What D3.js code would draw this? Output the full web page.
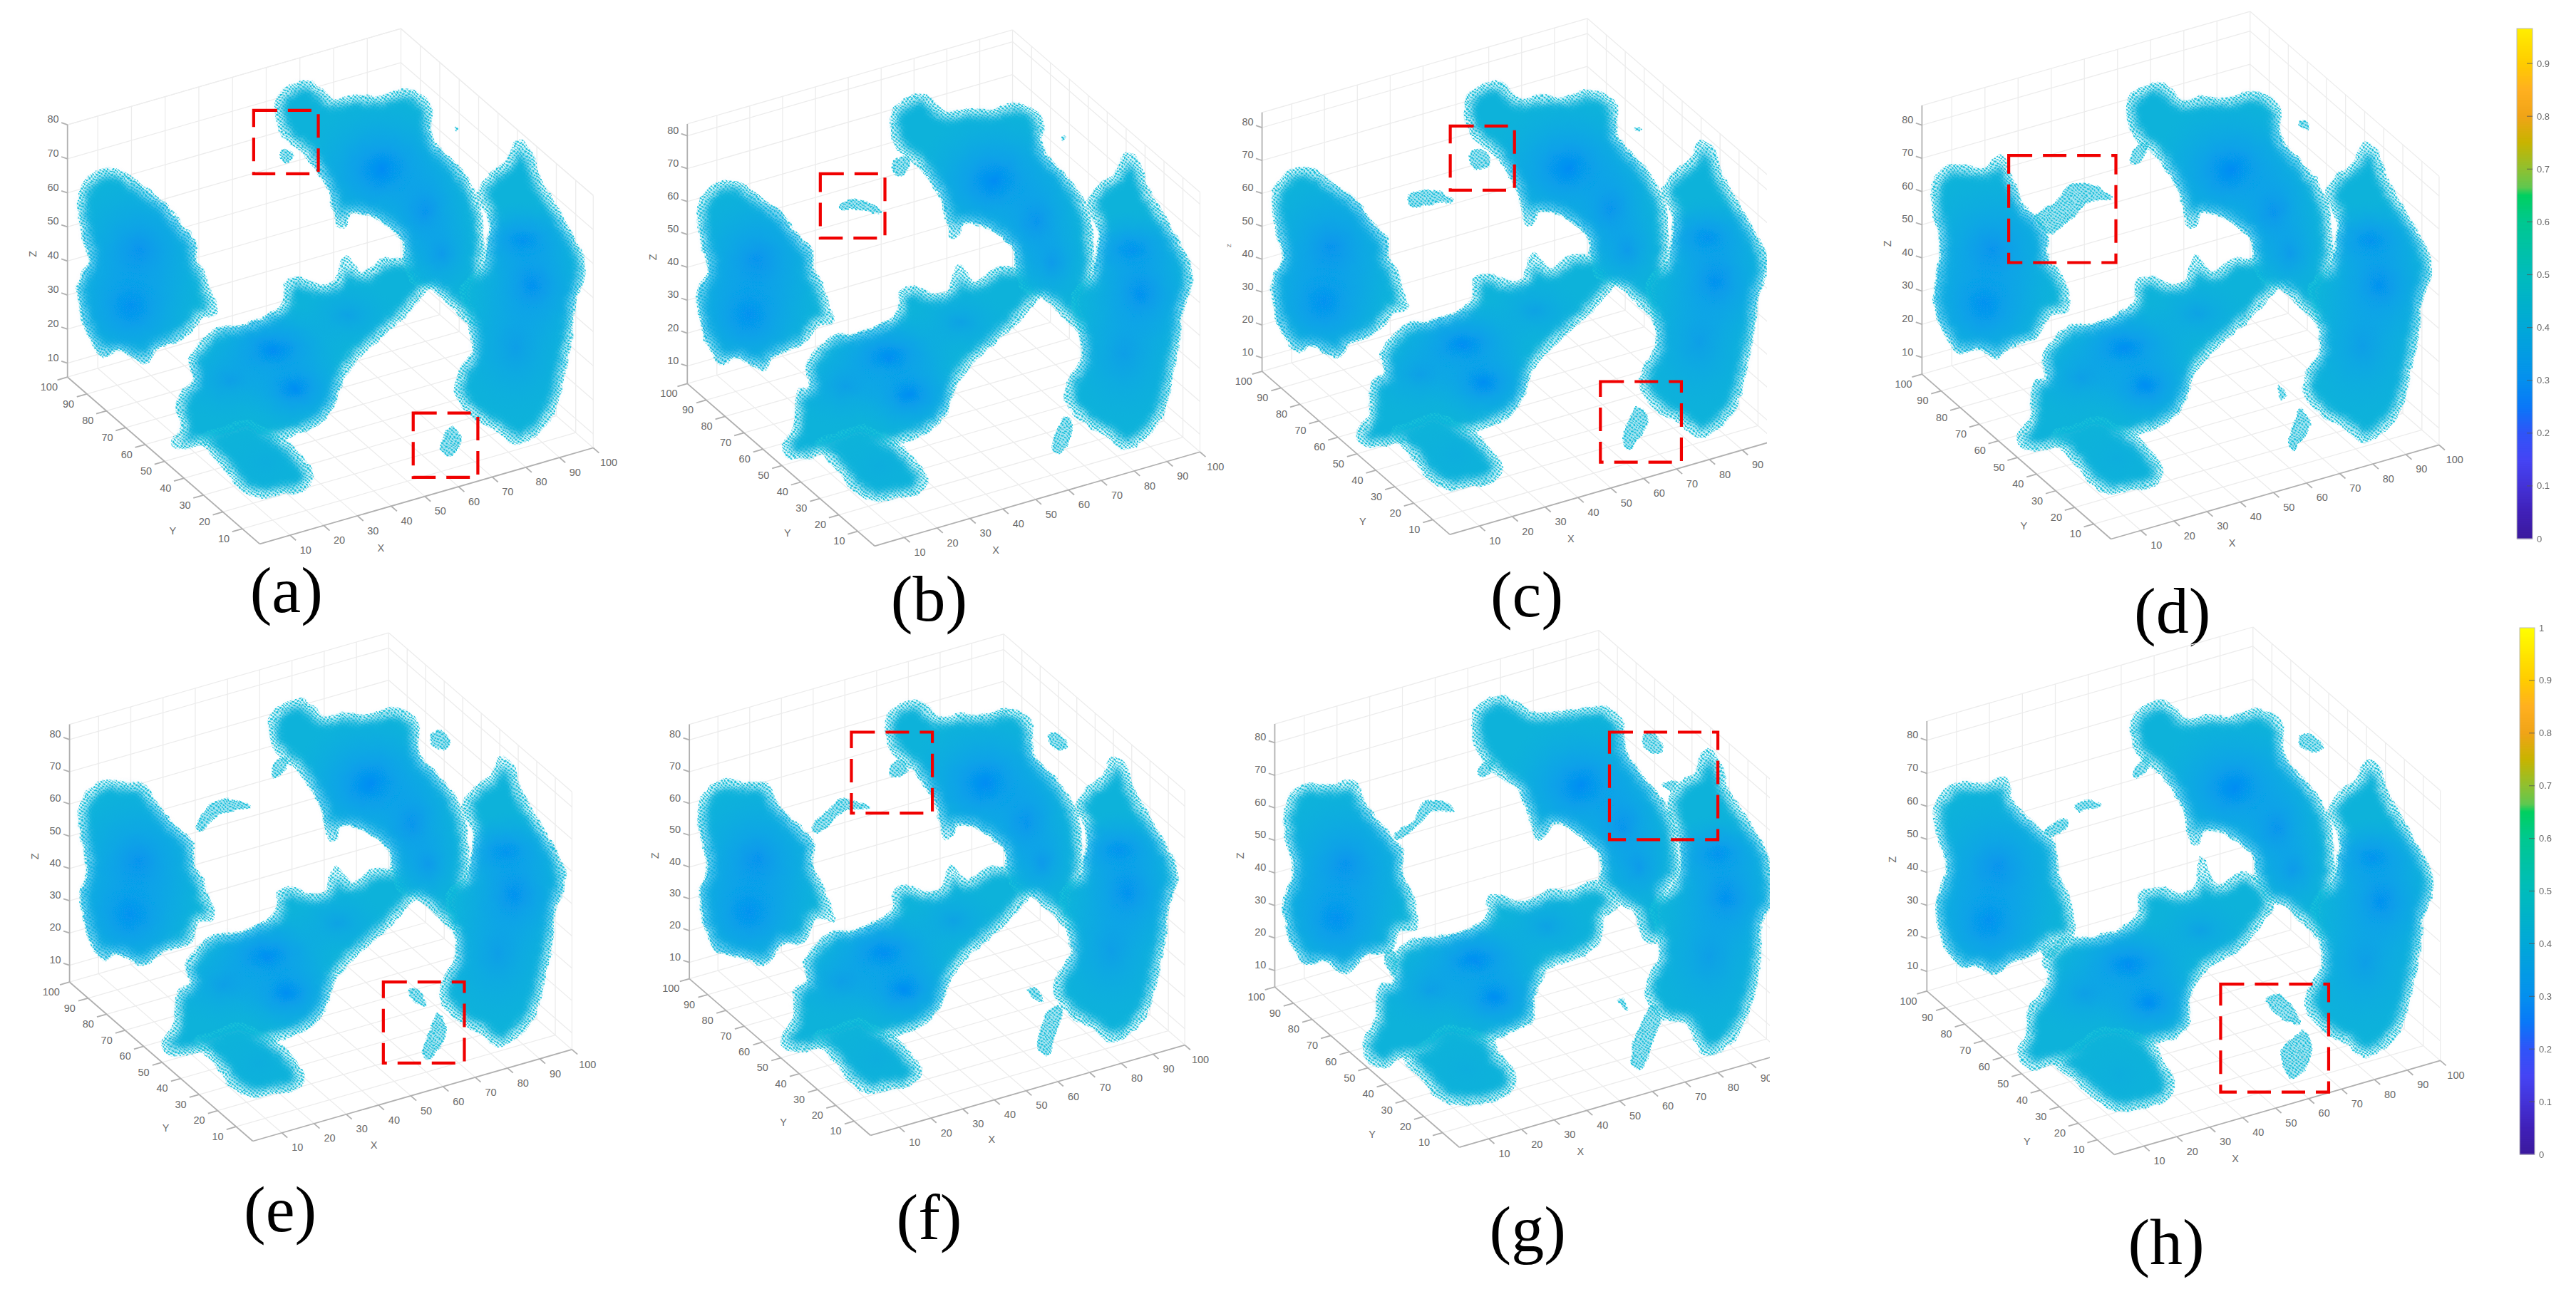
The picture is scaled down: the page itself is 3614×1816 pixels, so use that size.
<!DOCTYPE html>
<html><head><meta charset="utf-8">
<script src="https://cdn.jsdelivr.net/npm/d3@7"></script>
<style>html,body{margin:0;background:#fff}svg{display:block}</style></head>
<body><svg id="c" width="3614" height="1816"></svg>
<script>
// ---------- panel frames ----------
const panelLabels=["(a)","(b)","(c)","(d)","(e)","(f)","(g)","(h)"];
const panelOrigin=[[0,0],[900,0],[1700,0],[2600,0],[0,880],[900,880],[1750,880],[2600,880]];
const cornerL=[[165,922],[112,938],[123,908],[168,915],[170,868],[117,860],[67,880],[180,890]];
const cornerF=[[635,1330],[570,1335],[582,1307],[630,1318],[618,1257],[560,1243],[518,1272],[638,1290]];
const cornerR=[[1450,1095],[1365,1105],[1377,1077],[1432,1088],[1398,1033],[1328,1022],[1310,1043],[1435,1060]];
const zTopY=[305,303,275,258,238,238,237,230];
const zTick10Y=[888,895,875,874,827,820,840,842];
const zTick80Y=[305,332,312,306,275,276,283,277];
const zLabelY=[612,620,592,587,552,550,550,560];
const clipRight=[1568,1568,1357,1568,1568,1568,1277,1568];
const labelPos=[[700,1497],[703,1517],[770,1507],[780,1547],[685,1477],[703,1497],[685,1527],[765,1557]];
const redBoxes=[
 [[620,270,778,425],[1010,1010,1168,1167]],
 [[437,425,595,582]],
 [[583,308,740,465],[950,933,1148,1130]],
 [[380,380,642,642]],
 [[937,868,1135,1066]],
 [[513,257,711,455]],
 [[885,257,1150,520]],
 [[898,873,1162,1137]]];
const axisTicks=[10,20,30,40,50,60,70,80,90,100];
const zTicks=[10,20,30,40,50,60,70,80];
// ---------- cluster outlines, as traced in panel (a) ----------
const blobA=[[260,415],[305,425],[350,460],[400,497],[440,550],[475,590],[478,635],[497,665],[507,695],[515,720],[527,765],[490,775],[465,810],[425,835],[385,850],[355,885],[320,870],[285,855],[255,872],[225,835],[205,790],[193,720],[197,680],[220,640],[205,580],[195,520],[197,470],[225,430]];
const blobB=[[755,200],[790,225],[815,245],[860,235],[920,240],[985,222],[1030,235],[1053,265],[1050,310],[1060,345],[1110,400],[1145,445],[1170,500],[1178,560],[1180,630],[1175,665],[1230,720],[1190,790],[1150,790],[1100,745],[1055,705],[1010,690],[990,640],[985,590],[940,545],[885,520],[855,520],[845,550],[830,555],[815,505],[805,465],[775,415],[740,370],[700,340],[680,300],[680,240],[710,212]];
const blobC=[[1060,640],[1090,690],[1050,705],[1020,735],[985,775],[945,810],[880,870],[840,920],[810,1000],[770,1040],[690,1072],[640,1085],[560,1105],[500,1085],[440,1095],[420,1082],[445,1050],[435,1000],[445,960],[475,930],[465,880],[490,840],[530,805],[580,800],[650,775],[695,740],[700,690],[730,682],[790,700],[820,690],[845,628],[865,650],[885,670],[940,635],[975,635]];
const blobCfat=[[1060,640],[1090,690],[1050,705],[1020,735],[985,775],[945,810],[880,870],[840,920],[810,1000],[770,1040],[690,1072],[640,1085],[560,1105],[530,1095],[460,1107],[415,1102],[405,1078],[435,1030],[445,945],[475,930],[465,880],[490,840],[530,805],[580,800],[650,775],[695,740],[700,690],[730,682],[790,700],[820,690],[845,628],[865,650],[885,670],[940,635],[975,635]];
const blobD=[[1265,347],[1295,370],[1315,430],[1350,490],[1395,570],[1425,630],[1425,680],[1403,740],[1398,800],[1380,900],[1350,1010],[1310,1060],[1260,1085],[1215,1050],[1160,1020],[1115,960],[1125,910],[1155,860],[1148,790],[1130,700],[1180,650],[1190,610],[1198,540],[1180,500],[1170,475],[1195,430],[1240,395]];
const blobE=[[600,1030],[650,1050],[700,1080],[745,1130],[763,1160],[745,1195],[690,1205],[640,1215],[590,1195],[550,1145],[510,1100],[490,1070],[540,1050]];
const blobNames=["C","B","A","D","E"];
const blobShapes=[blobC,blobB,blobA,blobD,blobE];
// densest spots: blob index, x, y, rx, ry, strength
const hotSpots=[
 [2,320,745,170,170,1],[2,340,610,190,190,.75],
 [1,935,415,200,170,1],[1,1040,520,130,170,.75],[1,1080,620,100,120,.55],
 [3,1280,590,140,100,1],[3,1300,700,150,165,.9],[3,1260,850,150,190,.5],
 [0,670,860,180,120,1],[0,720,950,140,105,.95],[0,560,930,140,105,.45],[0,850,770,120,85,.4],
 [4,650,1130,100,80,.12]];
// ---------- shapes that differ per panel, in that panel's own frame ----------
const overrideA={3:[[255,405],[320,415],[360,380],[385,430],[415,500],[470,565],[475,640],[500,660],[525,755],[480,770],[445,825],[390,845],[345,873],[310,850],[260,860],[225,815],[200,740],[210,650],[215,600],[195,500],[200,440],[220,415]],
 4:[[265,375],[310,385],[345,385],[375,420],[420,480],[470,530],[470,575],[495,620],[500,650],[510,660],[518,715],[485,720],[465,770],[420,785],[385,800],[350,825],[320,815],[285,795],[255,812],[225,775],[210,720],[197,660],[215,590],[200,510],[197,440],[225,395]],
 5:[[210,375],[250,385],[300,382],[330,430],[385,490],[420,530],[415,580],[440,630],[450,660],[467,715],[425,710],[395,770],[350,770],[300,825],[260,810],[215,800],[175,780],[150,700],[145,640],[165,590],[145,500],[145,430],[170,390]],
 6:[[150,385],[210,390],[260,378],[285,430],[340,500],[378,550],[375,600],[400,650],[410,735],[370,740],[350,790],[290,800],[240,845],[190,815],[140,820],[105,760],[90,670],[115,600],[95,510],[95,440],[115,400]],
 7:[[250,385],[330,385],[370,370],[390,430],[450,490],[490,530],[500,610],[525,660],[535,755],[490,765],[440,800],[390,815],[345,845],[300,825],[265,830],[225,780],[205,680],[230,590],[205,500],[205,430]]};
const overrideB={6:[[620,172],[665,190],[700,212],[790,205],[870,197],[915,230],[922,300],[960,360],[1010,420],[1040,480],[1050,560],[1050,610],[1015,650],[1060,690],[1000,770],[970,760],[950,700],[905,670],[865,630],[865,560],[820,515],[770,480],[745,480],[720,515],[705,515],[690,460],[665,400],[600,350],[560,290],[555,210],[585,180]]};
const overrideD={6:[[1120,300],[1150,325],[1170,390],[1220,470],[1270,560],[1280,680],[1255,720],[1250,830],[1215,960],[1180,1015],[1125,1045],[1095,1010],[1075,970],[1005,950],[975,890],[990,840],[1010,800],[1000,740],[990,680],[1050,620],[1060,540],[1045,490],[1030,430],[1060,380],[1095,360]]};
const overrideC={6:[[860,625],[905,680],[870,710],[860,770],[800,810],[740,830],[700,900],[695,960],[630,995],[600,1010],[540,1030],[480,1030],[430,1050],[380,1050],[340,1075],[295,1060],[288,1010],[315,960],[325,880],[360,870],[352,810],[410,765],[470,760],[560,730],[590,700],[590,660],[640,665],[680,675],[740,645],[780,650],[830,630]],
 7:[[990,620],[1025,670],[985,740],[940,790],[890,815],[850,850],[820,910],[815,975],[790,1000],[735,1015],[660,1050],[580,1060],[490,1065],[435,1080],[405,1035],[425,1000],[430,940],[470,885],[480,850],[465,815],[525,765],[590,760],[660,735],[700,700],[700,655],[750,640],[800,655],[835,640],[850,565],[870,605],[890,635],[950,603]]};
const overrideE={6:[[480,980],[540,985],[600,1010],[610,1040],[650,1085],[650,1125],[620,1150],[520,1165],[470,1150],[430,1105],[385,1055],[430,1020]],
 7:[[600,985],[680,990],[735,1020],[755,1060],[778,1105],[770,1150],[720,1170],[640,1180],[590,1150],[545,1110],[495,1065],[550,1020]]};
const extrasA=[[[695,365],[715,375],[712,392],[695,397],[685,382]],[[1105,1045],[1125,1075],[1100,1113],[1078,1095]],[[1112,310],[1118,313],[1114,317]]];
const extrasB=[[[483,505],[515,488],[555,497],[585,520],[530,512],[495,512]],[[618,395],[650,385],[655,410],[625,430]],[[1020,1045],[1035,1020],[1050,1030],[1045,1075],[1020,1110],[1003,1095]],[[1026,335],[1033,332],[1030,341]]];
const extrasC=[[[480,480],[530,465],[590,490],[540,497],[485,505]],[[630,375],[660,365],[680,400],[640,410]],[[1040,997],[1065,1025],[1040,1075],[1020,1100],[1008,1085],[1020,1030]],[[1034,314],[1048,314],[1042,320]]];
const extrasD=[[[445,530],[500,490],[530,455],[580,452],[630,485],[580,490],[530,535],[480,570]],[[685,365],[720,350],[700,395],[680,400]],[[1090,298],[1105,298],[1112,318],[1098,312]],[[1038,942],[1058,968],[1045,972]],[[1095,1000],[1115,1040],[1090,1085],[1075,1100],[1065,1080],[1080,1030]]];
const extrasE=[[[515,435],[560,420],[610,440],[570,450],[530,458],[490,498],[480,490]],[[670,335],[700,320],[695,350],[670,368]],[[1055,260],[1075,255],[1100,285],[1085,300],[1055,285]],[[1000,890],[1025,890],[1040,925],[1015,915]],[[1070,945],[1090,985],[1065,1040],[1045,1057],[1035,1040],[1050,990]]];
const extrasF=[[[415,495],[455,450],[490,422],[555,440],[490,450],[435,500]],[[610,340],[635,325],[650,350],[612,365]],[[993,265],[1015,260],[1040,290],[1015,298]],[[948,888],[962,885],[978,915],[962,908]],[[1000,935],[1025,930],[1010,1000],[990,1045],[970,1030]]];
const extrasG=[[[360,510],[410,470],[430,432],[470,425],[505,447],[450,450],[420,480],[370,517]],[[565,345],[605,322],[595,355],[570,368]],[[965,270],[990,258],[1015,303],[985,305]],[[1015,382],[1050,382],[1035,400]],[[908,912],[920,912],[928,938]],[[990,925],[1010,950],[990,1010],[965,1080],[945,1075],[940,1045]],[[345,790],[365,810],[355,850],[335,810]]];
const extrasH=[[[545,435],[575,425],[605,437],[570,445],[550,450]],[[470,500],[520,470],[525,485],[480,510]],[[685,355],[720,315],[720,345],[690,365]],[[1090,270],[1110,260],[1148,295],[1125,305],[1095,292]],[[1008,910],[1040,900],[1070,925],[1090,970],[1050,955]],[[1050,1030],[1085,1000],[1100,985],[1120,1030],[1100,1080],[1070,1103],[1050,1060]],[[460,790],[520,760],[480,810]]];
const panelExtras=[extrasA,extrasB,extrasC,extrasD,extrasE,extrasF,extrasG,extrasH];
// ---------- colour bars ----------
const colourValues=[0,.05,.1,.15,.2,.25,.3,.4,.5,.6,.65,.665,.7,.75,.8,.85,.9,1];
const colourHex=["#3c1a9e","#4020b8","#4433d8","#4545f5","#2f55f8","#0a78f8","#0590ee","#02a8d8","#00bcbc","#00c890","#00d060","#60c850","#90c030","#c8b400","#f0a418","#ffb020","#ffcc00","#ffff00"];
const barTicks=[0,.1,.2,.3,.4,.5,.6,.7,.8,.9,1];
const barX=[[3531,3553],[3535,3556]];
const barY0=[756,1620];
const barY1=[15,881];
const barClipTop=[40,881];

const svg=d3.select("#c");
const defs=svg.append("defs");
const GREY="#6a6a6a";
const FONT="'Liberation Sans',Arial,sans-serif";
// stipple
const pat=defs.append("pattern").attr("id","dots").attr("patternUnits","userSpaceOnUse").attr("width",4.2).attr("height",3.8).attr("patternTransform","rotate(38)");
pat.append("ellipse").attr("cx",2.1).attr("cy",1.9).attr("rx",1.75).attr("ry",1.1).attr("fill","#1cc2da");
const soft=defs.append("filter").attr("id","soft").attr("x","-5%").attr("y","-5%").attr("width","110%").attr("height","110%");
soft.append("feMorphology").attr("operator","erode").attr("radius",6).attr("result","e");
soft.append("feGaussianBlur").attr("in","e").attr("stdDeviation",6);
// rough, slightly soft edge of the point cloud
const rough=defs.append("filter").attr("id","rough").attr("x","-3%").attr("y","-3%").attr("width","106%").attr("height","106%");
rough.append("feTurbulence").attr("type","fractalNoise").attr("baseFrequency",.07).attr("numOctaves",2).attr("seed",3).attr("result","n");
rough.append("feDisplacementMap").attr("in","SourceGraphic").attr("in2","n").attr("scale",6).attr("xChannelSelector","R").attr("yChannelSelector","G").attr("result","d");
rough.append("feGaussianBlur").attr("in","d").attr("stdDeviation",.45);
const rg=defs.append("radialGradient").attr("id","hot");
rg.append("stop").attr("offset","0%").attr("stop-color","#058cf4").attr("stop-opacity",1);
rg.append("stop").attr("offset","35%").attr("stop-color","#069eec").attr("stop-opacity",.78);
rg.append("stop").attr("offset","100%").attr("stop-color","#08ace2").attr("stop-opacity",0);

const closed=(sx,sy)=>d3.line().x(d=>sx(d[0])).y(d=>sy(d[1])).curve(d3.curveCatmullRomClosed.alpha(.5));
const open=(sx,sy)=>d3.line().x(d=>sx(d[0])).y(d=>sy(d[1]));

panelLabels.forEach((lab,i)=>{
  const [ox,oy]=panelOrigin[i];
  const sx=d3.scaleLinear().domain([0,1568]).range([ox,ox+900]);
  const sy=d3.scaleLinear().domain([0,1568]).range([oy,oy+900]);
  const L=cornerL[i],F=cornerF[i],R=cornerR[i];
  const X=[R[0]-F[0],R[1]-F[1]],Y=[L[0]-F[0],L[1]-F[1]];
  const xf=d3.scaleLinear().domain([1,100]).range([0,1]);
  const yf=d3.scaleLinear().domain([1,100]).range([0,1]);
  const zf=d3.scaleLinear().domain([10,80]).range([zTick10Y[i]-L[1],zTick80Y[i]-L[1]]);
  const zTop=zTopY[i]-L[1];
  const P=(x,y,dz=0)=>[F[0]+X[0]*xf(x)+Y[0]*yf(y),F[1]+X[1]*xf(x)+Y[1]*yf(y)+dz];
  // frame (a) -> this panel
  const La=cornerL[0],Fa=cornerF[0],Ra=cornerR[0];
  const ax=Fa[0]-La[0],ay=Fa[1]-La[1],bx=Ra[0]-La[0],by=Ra[1]-La[1],det=ax*by-bx*ay;
  const map=p=>{const dx=p[0]-La[0],dy=p[1]-La[1];const s=(dx*by-bx*dy)/det,t=(ax*dy-dx*ay)/det;
    return [L[0]+s*(F[0]-L[0])+t*(R[0]-L[0]),L[1]+s*(F[1]-L[1])+t*(R[1]-L[1])];};

  defs.append("clipPath").attr("id","pc"+i).append("rect").attr("x",ox-60).attr("y",oy-20).attr("width",sx(clipRight[i])-ox+60).attr("height",880);
  const g=svg.append("g").attr("clip-path",`url(#pc${i})`);
  const line=open(sx,sy);
  const grid=g.append("g").attr("fill","none").attr("stroke","#ececec").attr("stroke-width",1.3);
  const seg=(a,b)=>grid.append("path").attr("d",line([a,b]));
  seg(P(1,100,zTop),P(100,100,zTop));seg(P(100,100,zTop),P(100,1,zTop));seg(P(100,100,0),P(100,100,zTop));
  seg(P(100,100,0),P(100,1,0));seg(P(100,100,0),P(1,100,0));seg(P(100,1,0),P(100,1,zTop));
  axisTicks.filter(t=>t<100).forEach(t=>{
    seg(P(t,1),P(t,100));seg(P(t,100),P(t,100,zTop));
    seg(P(1,t),P(100,t));seg(P(100,t),P(100,t,zTop));
  });
  zTicks.forEach(z=>{seg(P(1,100,zf(z)),P(100,100,zf(z)));seg(P(100,100,zf(z)),P(100,1,zf(z)));});
  // axes
  const ax3=g.append("g").attr("fill","none").attr("stroke","#b0b0b0").attr("stroke-width",1.8);
  [[P(1,100,zTop),P(1,100)],[P(1,100),P(1,1)],[P(1,1),P(100,1)]].forEach(s=>ax3.append("path").attr("d",line(s)));
  axisTicks.forEach(t=>{
    ax3.append("path").attr("d",line([P(t,1),P(t,-2)]));
    ax3.append("path").attr("d",line([P(1,t),P(-2,t)]));
  });
  zTicks.forEach(z=>{const a=P(1,100,zf(z));ax3.append("path").attr("d",line([a,[a[0]-15,a[1]-5]]));});
  const txt=g.append("g").attr("font-family",FONT).attr("font-size",14.5).attr("fill",GREY).attr("text-anchor","middle");
  const put=(p,s,rot)=>{const t=txt.append("text").attr("x",sx(p[0])).attr("y",sy(p[1])+5).text(s);
    if(rot)t.attr("transform",`rotate(-90 ${sx(p[0])} ${sy(p[1])+5})`);return t;};
  axisTicks.forEach(t=>{
    const a=P(t,1);put([a[0]+38,a[1]+36],t);
    const b=P(1,t);put([b[0]-45,b[1]+24],t);
  });
  zTicks.forEach(z=>{const a=P(1,100,zf(z));put([a[0]-35,a[1]-14],z);});
  put([F[0]+296,F[1]+10],"X");put([F[0]-213,F[1]-32],"Y");
  put([L[0]-76,zLabelY[i]],"Z",true).attr("font-size",i===2?8:14.5);

  // clusters
  const outline=closed(sx,sy);
  const drawn=blobNames.map((n,b)=>{
    const ov={C:overrideC,B:overrideB,A:overrideA,D:overrideD,E:overrideE}[n];
    if(ov[i])return ov[i];
    const src=(n==="C"&&i>0)?blobCfat:blobShapes[b];
    return src.map(map);
  });
  const layer=g.append("g").attr("filter","url(#rough)");
  drawn.forEach((pts,b)=>{
    const d=outline(pts);
    defs.append("clipPath").attr("id",`bc${i}_${b}`).append("path").attr("d",d);
    layer.append("path").attr("d",d).attr("fill","url(#dots)").attr("stroke","url(#dots)").attr("stroke-width",5);
    layer.append("path").attr("d",d).attr("fill","#0eb2da").attr("filter","url(#soft)");
    const h=layer.append("g").attr("clip-path",`url(#bc${i}_${b})`);
    hotSpots.filter(s=>s[0]===b).forEach(s=>{
      const c=map([s[1],s[2]]);
      h.append("ellipse").attr("cx",sx(c[0])).attr("cy",sy(c[1])).attr("rx",s[3]/1.742).attr("ry",s[4]/1.742).attr("fill","url(#hot)").attr("opacity",s[5]);
    });
  });
  panelExtras[i].forEach(pts=>{
    const d=outline(pts);
    layer.append("path").attr("d",d).attr("fill","url(#dots)").attr("stroke","url(#dots)").attr("stroke-width",3);
    layer.append("path").attr("d",d).attr("fill","#12b6da").attr("opacity",.35);
  });
  // red dashed boxes
  redBoxes[i].forEach(r=>{
    g.append("rect").attr("x",sx(r[0])).attr("y",sy(r[1])).attr("width",sx(r[2])-sx(r[0])).attr("height",sy(r[3])-sy(r[1]))
     .attr("fill","none").attr("stroke","#f00000").attr("stroke-width",4.2).attr("stroke-dasharray","33,15");
  });
  // panel letter
  svg.append("text").attr("x",sx(labelPos[i][0])).attr("y",sy(labelPos[i][1])).attr("text-anchor","middle")
    .attr("font-family","'Liberation Serif','Times New Roman',serif").attr("font-size",92).attr("fill","#000").text(lab);
});

// colour bars
const colour=d3.scaleLinear().domain(colourValues).range(colourHex).interpolate(d3.interpolateRgb);
barX.forEach((bx,k)=>{
  const vy=d3.scaleLinear().domain([0,1]).range([barY0[k],barY1[k]]);
  const g=svg.append("g");
  const top=barClipTop[k];
  const steps=d3.range(0,vy.invert(top),0.002);
  g.selectAll("rect.s").data(steps).join("rect").attr("class","s")
    .attr("x",bx[0]).attr("width",bx[1]-bx[0])
    .attr("y",v=>Math.max(top,vy(v+0.002)-0.5)).attr("height",v=>vy(v)-Math.max(top,vy(v+0.002))+1)
    .attr("fill",v=>colour(v));
  g.append("rect").attr("x",bx[0]).attr("y",top).attr("width",bx[1]-bx[0]).attr("height",vy(0)-top)
    .attr("fill","none").attr("stroke","#bbb").attr("stroke-width",1);
  barTicks.filter(v=>vy(v)>=top).forEach(v=>{
    if(v>0&&v<1)g.append("path").attr("d",d3.line()([[bx[1]-8,vy(v)],[bx[1],vy(v)]])).attr("stroke","#555").attr("stroke-width",1.2).attr("opacity",.7);
    g.append("text").attr("x",bx[1]+6).attr("y",vy(v)+4.5).attr("font-family",FONT).attr("font-size",13).attr("fill",GREY).text(v);
  });
});
</script></body></html>
